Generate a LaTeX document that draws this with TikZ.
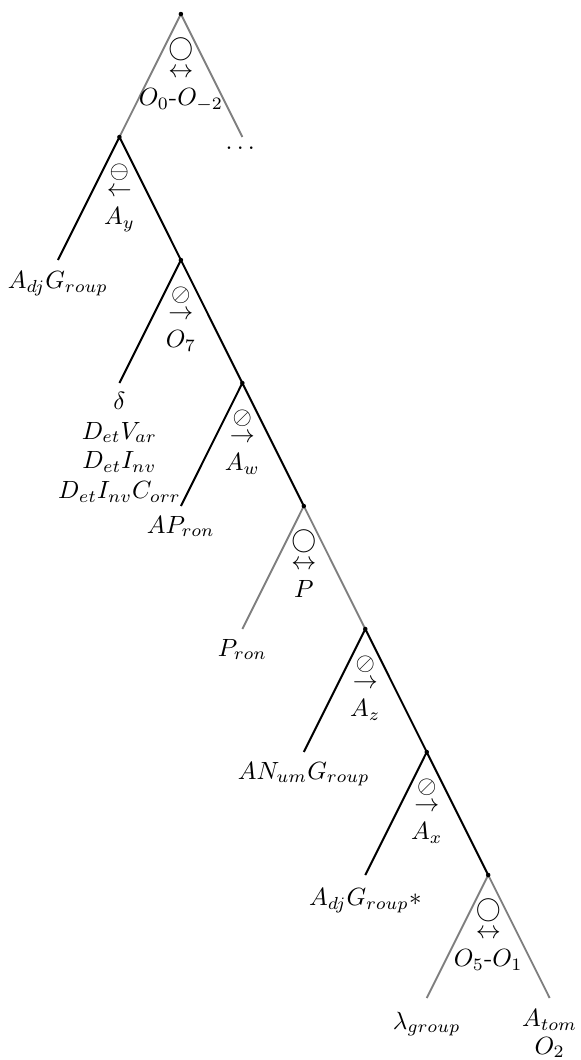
\documentclass[tikz,border=0pt]{standalone}
\usepackage{amsmath,amssymb}
\usepackage{xcolor}
\usepackage{tikz}
\usetikzlibrary{positioning}
\definecolor{treegray}{HTML}{7F7F7F}

\begin{document}
\begin{tikzpicture}[x=0.867cm,y=1.735cm,
  solidedge/.style={black,line width=0.8pt},
  softedge/.style={treegray,line width=0.75pt},
  oplab/.style={anchor=north,align=center,inner sep=0pt},
  leaf/.style={align=center}]
  \useasboundingbox (-2.943,-8.504) rectangle (6.504,0.114);
  \coordinate (n0) at (0,0);
  \foreach \i in {1,...,7} {
    \pgfmathtruncatemacro{\x}{\i-2}
    \coordinate (n\i) at (\x,-\i);
  }
  \foreach \e/\x/\y in {0/1/-1,1/-2/-2,2/-1/-3,3/0/-4,4/1/-5,5/2/-6,6/3/-7,7/4/-8,8/6/-8}
    \coordinate (e\e) at (\x,\y);
  \foreach \l/\t/\r/\s in {n1/n0/e0/softedge,e1/n1/n2/solidedge,e2/n2/n3/solidedge,e3/n3/n4/solidedge,e4/n4/n5/softedge,e5/n5/n6/solidedge,e6/n6/n7/solidedge,e7/n7/e8/softedge}
    \draw[\s] (\l) -- (\t) -- (\r);
  \foreach \i in {0,...,7}
    \fill (n\i) circle (0.9pt);

  \node[oplab] (o0) at ([yshift=-9.7pt]n0) {$\bigcirc$\\[-3.2pt]$\leftrightarrow$\\[-1pt]$O_0$-$O_{-2}$};
  \node[oplab] (o1) at ([yshift=-10.7pt]n1) {$\ominus$\\[-4.7pt]$\leftarrow$\\[-1pt]$A_y$};
  \node[oplab] (o2) at ([yshift=-10.7pt]n2) {$\oslash$\\[-4.7pt]$\rightarrow$\\[-1pt]$O_7$};
  \node[oplab] (o3) at ([yshift=-10.7pt]n3) {$\oslash$\\[-4.7pt]$\rightarrow$\\[-1pt]$A_w$};
  \node[oplab] (o4) at ([yshift=-9.7pt]n4) {$\bigcirc$\\[-3.2pt]$\leftrightarrow$\\[-1pt]$P$};
  \node[oplab] (o5) at ([yshift=-10.7pt]n5) {$\oslash$\\[-4.7pt]$\rightarrow$\\[-1pt]$A_z$};
  \node[oplab] (o6) at ([yshift=-10.7pt]n6) {$\oslash$\\[-4.7pt]$\rightarrow$\\[-1pt]$A_x$};
  \node[oplab] (o7) at ([yshift=-9.7pt]n7) {$\bigcirc$\\[-3.2pt]$\leftrightarrow$\\[-1pt]$O_5$-$O_1$};

  \node[leaf,below=0.5pt of e0] (l0) {$\dots$};
  \node[leaf,below=1pt of e1] (l1) {$A_{dj}G_{roup}$};
  \node[leaf,below=0pt of e2] (l2) {$\delta$\\$D_{et}V_{ar}$\\$D_{et}I_{nv}$\\$D_{et}I_{nv}C_{orr}$};
  \node[leaf,below=0.5pt of e3] (l3) {$AP_{ron}$};
  \node[leaf,below=0.5pt of e4] (l4) {$P_{ron}$};
  \node[leaf,below=0.5pt of e5] (l5) {$AN_{um}G_{roup}$};
  \node[leaf,below=2pt of e6] (l6) {$A_{dj}G_{roup}*$};
  \node[leaf,below=2pt of e7] (l7) {$\lambda_{group}$};
  \node[leaf,below=1pt of e8] (l8) {$A_{tom}$\\[-0.8pt]$O_2$};
\end{tikzpicture}
\end{document}
